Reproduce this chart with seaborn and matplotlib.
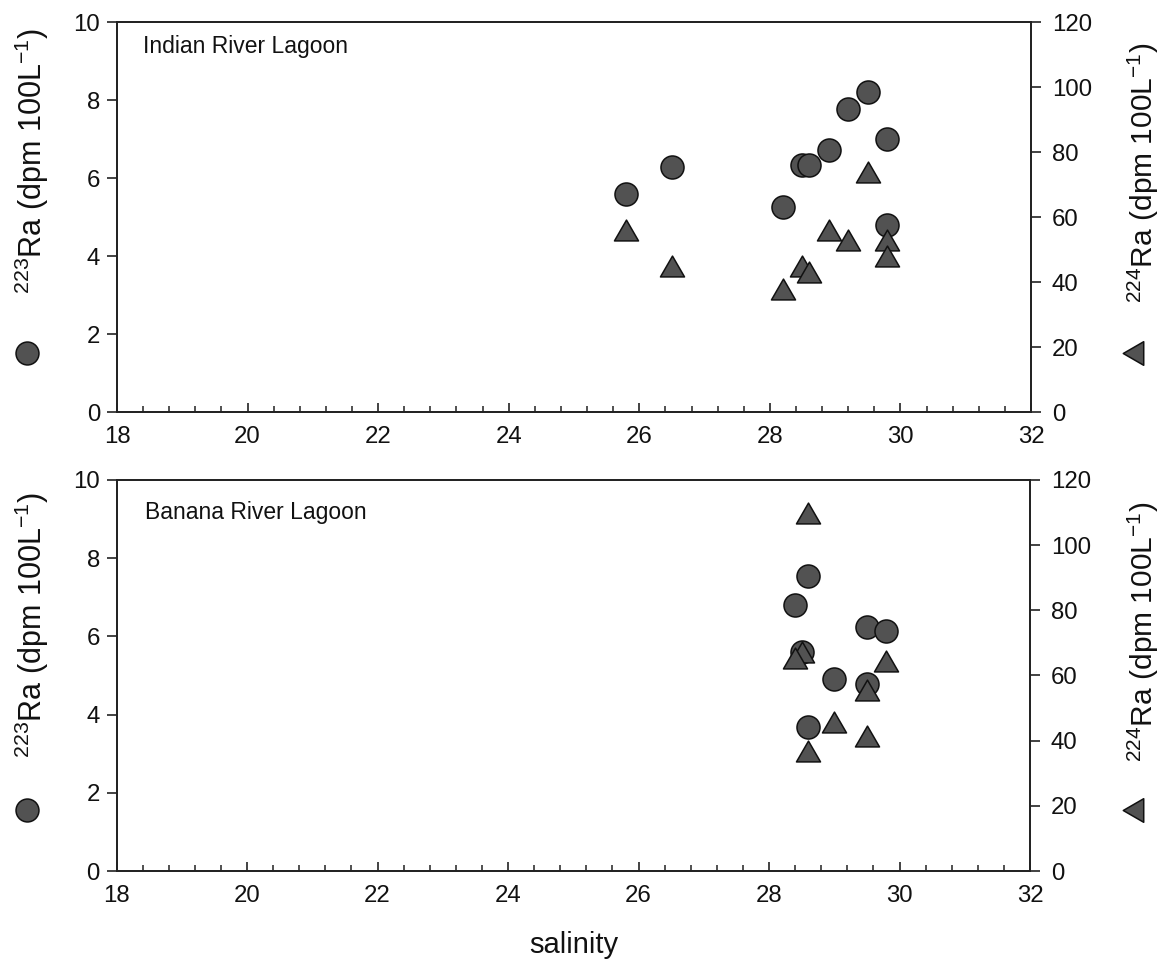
import numpy as np
import pandas as pd
import matplotlib
matplotlib.use("Agg")
import matplotlib.pyplot as plt
from matplotlib.path import Path
from matplotlib.lines import Line2D
from matplotlib.ticker import MultipleLocator
import seaborn as sns

# ---------------- data ----------------
# Indian River Lagoon
irl_sal_223 = [25.8, 26.5, 28.2, 28.5, 28.6, 28.9, 29.2, 29.5, 29.8, 29.8]
irl_ra223 = [5.58, 6.27, 5.25, 6.33, 6.33, 6.71, 7.77, 8.21, 7.00, 4.79]
irl_sal_224 = [25.8, 26.5, 28.2, 28.5, 28.6, 28.9, 29.2, 29.5, 29.8, 29.8]
irl_ra224 = [56, 45, 38, 45, 43, 56, 53, 74, 53, 48]

# Banana River Lagoon
brl_sal_223 = [28.6, 28.4, 29.5, 29.8, 28.5, 29.0, 29.5, 28.6]
brl_ra223 = [7.55, 6.81, 6.23, 6.13, 5.59, 4.90, 4.78, 3.69]
brl_sal_224 = [28.6, 28.5, 28.4, 29.8, 29.5, 29.0, 29.5, 28.6]
brl_ra224 = [110.0, 67.3, 65.4, 64.5, 55.6, 45.7, 41.5, 36.7]

panel_titles = ["Indian River Lagoon", "Banana River Lagoon"]
x_ticks = [18, 20, 22, 24, 26, 28, 30, 32]
left_ticks = [0, 2, 4, 6, 8, 10]
right_ticks = [0, 20, 40, 60, 80, 100, 120]
left_label = r"$^{223}$Ra (dpm 100L$^{-1}$)"
right_label = r"$^{224}$Ra (dpm 100L$^{-1}$)"
x_label = "salinity"

# ---------------- style ----------------
sns.set_style("ticks")
plt.rcParams["font.family"] = ["Liberation Sans", "DejaVu Sans"]
plt.rcParams["mathtext.fontset"] = "custom"
plt.rcParams["mathtext.rm"] = "Liberation Sans"
plt.rcParams["mathtext.it"] = "Liberation Sans"
plt.rcParams["mathtext.bf"] = "Liberation Sans"

FACE = "#525252"
EDGE = "#111111"
SPINE = "#222222"
TXT = "#111111"
TICK_FS = 17.3

tri_up = Path([(-1, -0.866), (1, -0.866), (0, 0.866), (-1, -0.866)],
              [Path.MOVETO, Path.LINETO, Path.LINETO, Path.CLOSEPOLY])
tri_left = Path([(-0.866, 0), (0.866, 1), (0.866, -1), (-0.866, 0)],
                [Path.MOVETO, Path.LINETO, Path.LINETO, Path.CLOSEPOLY])

W, H = 1173, 963
fig = plt.figure(figsize=(W / 100, H / 100), dpi=100)

# axes rectangles in pixels: (left, top, right, bottom)
rects = [(117, 22, 1031, 412), (116.5, 480, 1030, 871)]

def px(x, y):
    return x / W, 1 - y / H

data = [
    (irl_sal_223, irl_ra223, irl_sal_224, irl_ra224),
    (brl_sal_223, brl_ra223, brl_sal_224, brl_ra224),
]
title_pos = [(0.0284, 0.937), (0.031, 0.918)]
left_lab_bottom = [294, 758]
right_lab_bottom = [303, 762]
marker_y = [353, 810]

for i, (l, t, r, b) in enumerate(rects):
    ax = fig.add_axes([l / W, 1 - b / H, (r - l) / W, (b - t) / H])
    s223, r223, s224, r224 = data[i]
    df1 = pd.DataFrame({"salinity": s223, "ra223": r223})
    df2 = pd.DataFrame({"salinity": s224, "ra224": r224})

    sns.scatterplot(data=df1, x="salinity", y="ra223", ax=ax, marker="o",
                    s=275, color=FACE, edgecolor=EDGE, linewidth=1.1,
                    zorder=3, clip_on=False)
    ax.set_xlim(18, 32)
    ax.set_ylim(0, 10)
    ax.set_xticks(x_ticks)
    ax.set_yticks(left_ticks)
    ax.xaxis.set_minor_locator(MultipleLocator(0.4))
    ax.set_xlabel("")
    ax.set_ylabel("")

    ax2 = ax.twinx()
    sns.scatterplot(data=df2, x="salinity", y="ra224", ax=ax2, marker=tri_up,
                    s=300, color=FACE, edgecolor=EDGE, linewidth=1.1,
                    zorder=3, clip_on=False)
    ax2.set_ylim(0, 120)
    ax2.set_yticks(right_ticks)
    ax2.set_xlim(18, 32)
    ax2.set_ylabel("")
    ax2.set_xlabel("")

    for a in (ax, ax2):
        for sp in a.spines.values():
            sp.set_visible(True)
            sp.set_color(SPINE)
            sp.set_linewidth(1.3)

    ax.tick_params(axis="x", which="major", direction="in", length=6.5,
                   width=1.2, color=SPINE, labelsize=TICK_FS, pad=10,
                   top=False, labelcolor=TXT)
    ax.tick_params(axis="x", which="minor", direction="in", length=4.2,
                   width=1.1, color=SPINE, top=False)
    ax.tick_params(axis="y", which="major", direction="out", length=7,
                   width=1.2, color=SPINE, labelsize=TICK_FS, pad=5,
                   labelcolor=TXT)
    ax2.tick_params(axis="y", which="major", direction="out", length=7,
                    width=1.2, color=SPINE, labelsize=TICK_FS, pad=8,
                    labelcolor=TXT)

    ax.text(title_pos[i][0], title_pos[i][1], panel_titles[i],
            transform=ax.transAxes, fontsize=16.5, ha="left", va="center",
            color=TXT)

    # left combined label: symbol + text
    fig.text(*px(32, left_lab_bottom[i]), left_label, rotation=90,
             ha="center", va="bottom", fontsize=22, color=TXT)
    fig.add_artist(Line2D([27 / W], [1 - marker_y[i] / H], marker="o",
                          markersize=16.5, markerfacecolor=FACE,
                          markeredgecolor=EDGE, markeredgewidth=1.1,
                          linestyle="none", transform=fig.transFigure))
    # right combined label
    fig.text(*px(1143, right_lab_bottom[i]), right_label, rotation=90,
             ha="center", va="bottom", fontsize=21.5, color=TXT)
    fig.add_artist(Line2D([1133 / W], [1 - marker_y[i] / H], marker=tri_left,
                          markersize=17, markerfacecolor=FACE,
                          markeredgecolor=EDGE, markeredgewidth=1.1,
                          linestyle="none", transform=fig.transFigure))

    if i == 1:
        fig.text(*px(574, 945), x_label, ha="center", va="center",
                 fontsize=21, color=TXT)

fig.savefig("out.png", dpi=100, facecolor="white")
